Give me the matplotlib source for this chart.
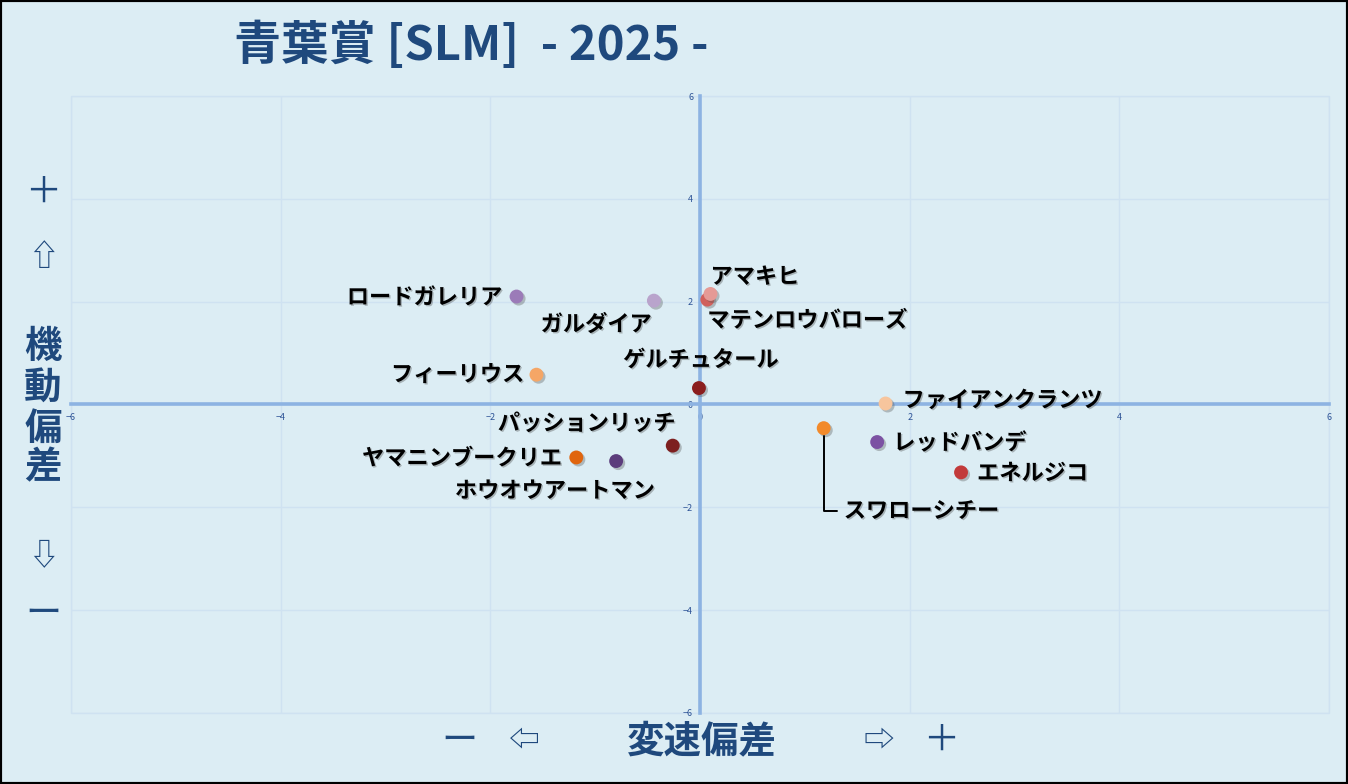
import matplotlib
matplotlib.use("Agg")
import matplotlib.pyplot as plt
import matplotlib.patheffects as pe
from matplotlib.patches import Rectangle

# ---------------- data ----------------
title = "青葉賞 [SLM]  - 2025 -"
names = ["ロードガレリア", "ガルダイア", "マテンロウバローズ", "アマキヒ", "フィーリウス",
         "ゲルチュタール", "ファイアンクランツ", "スワローシチー", "レッドバンデ", "エネルジコ",
         "パッションリッチ", "ヤマニンブークリエ", "ホウオウアートマン"]
speed_dev = [-1.75, -0.44, 0.07, 0.10, -1.56, -0.01, 1.77, 1.18, 1.69, 2.49, -0.26, -1.18, -0.80]
mobility_dev = [2.10, 2.02, 2.04, 2.15, 0.58, 0.32, 0.02, -0.46, -0.73, -1.32, -0.80, -1.03, -1.10]
colors = ["#9b7bb8", "#b9a4cc", "#d0605c", "#e59a96", "#f5a666", "#8b1e1e", "#f7c59d",
          "#f28a2a", "#7c52a3", "#c23a3a", "#7d1f1f", "#e0650e", "#5c3d7c"]
ticks = [-6, -4, -2, 0, 2, 4, 6]
y_label_chars = ["＋", "⇧", "機", "動", "偏", "差", "⇩", "ー"]
x_label_parts = ["ー", "⇦", "変速偏差", "⇨", "＋"]

# ---------------- layout (pixels) ----------------
label_layout = {
    "ロードガレリア": (-14, -1, "right"),
    "ガルダイア": (-2, -24, "right"),
    "マテンロウバローズ": (0, -21, "left"),
    "アマキヒ": (0, 17, "left"),
    "フィーリウス": (-12, 0, "right"),
    "ゲルチュタール": (2, 28, "center"),
    "ファイアンクランツ": (17, 3, "left"),
    "スワローシチー": (20, -83, "left"),
    "レッドバンデ": (16, -1, "left"),
    "エネルジコ": (16, -1, "left"),
    "パッションリッチ": (3, 22, "right"),
    "ヤマニンブークリエ": (-14, -1, "right"),
    "ホウオウアートマン": (39, -30, "right"),
}
y_label_pos = [193, 257, 347, 387, 428, 467, 556, 614]
y_label_size = [26, 22, 27, 27, 27, 27, 22, 26]
y_label_weight = ["normal", "normal", "bold", "bold", "bold", "bold", "normal", "normal"]
x_label_pos = [459, 524, 702, 879, 941]
x_label_size = [26, 22, 27, 22, 26]
x_label_weight = ["normal", "normal", "bold", "normal", "normal"]

W, H = 1348, 784
BG = "#dcedf4"
DARK = "#1f497d"
GRID = "#cfe2f1"
FAM = ["Noto Sans CJK JP", "DejaVu Sans"]
plt.rcParams["font.family"] = FAM

fig = plt.figure(figsize=(W / 100, H / 100), dpi=100)
fig.patch.set_facecolor(BG)

L, R, T, B = 71, 1329, 96, 713
ax = fig.add_axes([L / W, (H - B) / H, (R - L) / W, (B - T) / H])
ax.set_facecolor(BG)
ax.patch.set_edgecolor(GRID)
ax.patch.set_linewidth(1)
ax.set_xlim(-6, 6)
ax.set_ylim(-6, 6)
ax.set_xticks(ticks)
ax.set_yticks(ticks)
ax.grid(True, color=GRID, lw=1)
ax.set_axisbelow(True)
for s in ["top", "right"]:
    ax.spines[s].set_visible(False)
for s in ["left", "bottom"]:
    ax.spines[s].set_position(("data", 0))
    ax.spines[s].set_color("#8db3e2")
    ax.spines[s].set_linewidth(2.6)
ax.tick_params(length=0, labelsize=6.5, labelcolor="#2f5597")
ax.tick_params(axis="x", pad=6)
ax.tick_params(axis="y", pad=5)

ax.scatter(speed_dev, mobility_dev, s=100, c=colors, zorder=3, linewidths=0,
           path_effects=[pe.withSimplePatchShadow(offset=(1.5, -1.5), shadow_rgbFace="#555555", alpha=0.35)])

shadow = [pe.withSimplePatchShadow(offset=(1, -1), shadow_rgbFace="#444444", alpha=0.35)]
for name, x, y in zip(names, speed_dev, mobility_dev):
    dx, dy, ha = label_layout[name]
    kw = {}
    if name == "スワローシチー":
        kw["arrowprops"] = dict(arrowstyle="-", color="black", lw=1.4,
                                connectionstyle="angle,angleA=180,angleB=90,rad=0",
                                shrinkA=3, shrinkB=6)
    ax.annotate(name, (x, y), xytext=(dx, dy), textcoords="offset pixels",
                ha=ha, va="center", fontsize=16, fontweight="bold", color="black",
                family=FAM, zorder=4, path_effects=shadow, **kw)

fig.text(471 / W, 1 - 46 / H, title, ha="center", va="center", fontsize=34,
         fontweight="bold", color=DARK, family=FAM)

for ch, yp, sz, wt in zip(y_label_chars, y_label_pos, y_label_size, y_label_weight):
    fig.text(43 / W, 1 - yp / H, ch, ha="center", va="center", fontsize=sz,
             fontweight=wt, color=DARK, family=FAM)
for t, xp, sz, wt in zip(x_label_parts, x_label_pos, x_label_size, x_label_weight):
    fig.text(xp / W, 1 - 741 / H, t, ha="center", va="center", fontsize=sz,
             fontweight=wt, color=DARK, family=FAM)

fig.patches.append(Rectangle((0, 0), 1, 1, transform=fig.transFigure, fill=False,
                             edgecolor="black", lw=3))

fig.savefig("out.png", dpi=100, facecolor=BG)
